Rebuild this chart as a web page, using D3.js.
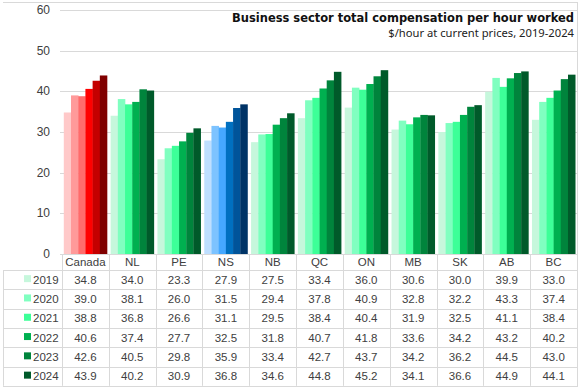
<!DOCTYPE html>
<html>
<head>
<meta charset="utf-8">
<script src="https://cdn.jsdelivr.net/npm/d3@7"></script>
<style>
  body { margin: 0; background: #fff; }
  svg { display: block; font-family: "Liberation Sans", Arial, sans-serif; }
</style>
</head>
<body>
<svg id="chart" width="580" height="388"></svg>
<script>
const regions = ["Canada", "NL", "PE", "NS", "NB", "QC", "ON", "MB", "SK", "AB", "BC"]
const years = ["2019", "2020", "2021", "2022", "2023", "2024"]
const v2019 = [34.8, 34.0, 23.3, 27.9, 27.5, 33.4, 36.0, 30.6, 30.0, 39.9, 33.0]
const v2020 = [39.0, 38.1, 26.0, 31.5, 29.4, 37.8, 40.9, 32.8, 32.2, 43.3, 37.4]
const v2021 = [38.8, 36.8, 26.6, 31.1, 29.5, 38.4, 40.4, 31.9, 32.5, 41.1, 38.4]
const v2022 = [40.6, 37.4, 27.7, 32.5, 31.8, 40.7, 41.8, 33.6, 34.2, 43.2, 40.2]
const v2023 = [42.6, 40.5, 29.8, 35.9, 33.4, 42.7, 43.7, 34.2, 36.2, 44.5, 43.0]
const v2024 = [43.9, 40.2, 30.9, 36.8, 34.6, 44.8, 45.2, 34.1, 36.6, 44.9, 44.1]
const yTicks = [0, 10, 20, 30, 40, 50, 60]

const greens = ["#c6f7dc", "#80ffc0", "#3dff98", "#00b050", "#00843c", "#005a2a"]
const reds = ["#ffc9c9", "#ff9a9a", "#ff6b6b", "#ff0000", "#c40000", "#800000"]
const blues = ["#bfdfff", "#7dc3ff", "#45a8ff", "#0070c0", "#00549a", "#003366"]

const series = [v2019, v2020, v2021, v2022, v2023, v2024]

const svg = d3.select("#chart")
const grey = "#d9d9d9"
const textCol = "#404040"

const x = d3.scaleBand().domain(regions).range([62, 577])
const xi = d3.scaleBand().domain(years).range([0, x.bandwidth()]).paddingOuter(0.25)
const y = d3.scaleLinear().domain([0, 60]).range([254, 10])

// frame
svg.append("line").attr("x1", 3).attr("x2", 577).attr("y1", 2.5).attr("y2", 2.5).attr("stroke", grey)
svg.append("line").attr("x1", 577.5).attr("x2", 577.5).attr("y1", 2).attr("y2", 386).attr("stroke", grey)

// gridlines + y labels
svg.append("g").selectAll("line").data(yTicks).join("line")
    .attr("x1", 60).attr("x2", 577)
    .attr("y1", d => Math.round(y(d)) + 0.5).attr("y2", d => Math.round(y(d)) + 0.5)
    .attr("stroke", grey)
svg.append("g").selectAll("text").data(yTicks).join("text")
    .attr("x", 50).attr("y", d => y(d) + 4)
    .attr("text-anchor", "end")
    .attr("font-size", 12).attr("fill", textCol)
    .text(d => d)

function colorFor(region, i) {
    if (region == "Canada") return reds[i]
    if (region == "NS") return blues[i]
    return greens[i]
}

// bars
const groups = svg.append("g").selectAll("g").data(regions).join("g")
    .attr("transform", d => "translate(" + x(d) + ",0)")
groups.selectAll("rect")
    .data((r, ri) => years.map((yr, i) => ({ region: r, year: yr, i: i, value: series[i][ri] })))
    .join("rect")
    .attr("x", d => xi(d.year))
    .attr("width", xi.bandwidth() + 0.3)
    .attr("y", d => y(d.value))
    .attr("height", d => y(0) - y(d.value))
    .attr("fill", d => colorFor(d.region, d.i))

// data table
const headerTop = 254, headerBottom = 270, rowH = 19.3
const tableBottom = headerBottom + rowH * years.length

// vertical lines
svg.append("g").selectAll("line").data(regions.map(r => x(r)).concat([577]))
    .join("line")
    .attr("x1", d => Math.round(d) + 0.5).attr("x2", d => Math.round(d) + 0.5)
    .attr("y1", headerTop).attr("y2", tableBottom)
    .attr("stroke", grey)
svg.append("line").attr("x1", 3.5).attr("x2", 3.5)
    .attr("y1", headerBottom).attr("y2", tableBottom).attr("stroke", grey)

// horizontal lines
svg.append("g").selectAll("line").data(d3.range(years.length + 1))
    .join("line")
    .attr("x1", 3).attr("x2", 578)
    .attr("y1", i => Math.round(headerBottom + i * rowH) + 0.5)
    .attr("y2", i => Math.round(headerBottom + i * rowH) + 0.5)
    .attr("stroke", grey)

// header labels
svg.append("g").selectAll("text").data(regions).join("text")
    .attr("x", d => x(d) + x.bandwidth() / 2)
    .attr("y", 266)
    .attr("text-anchor", "middle")
    .attr("font-size", 11.5).attr("fill", textCol)
    .text(d => d)

// rows
years.forEach((yr, i) => {
    const cy = headerBottom + i * rowH + rowH / 2 + 4
    svg.append("rect")
        .attr("x", 24).attr("y", cy - 8.5)
        .attr("width", 7).attr("height", 7)
        .attr("fill", greens[i])
    svg.append("text")
        .attr("x", 33).attr("y", cy)
        .attr("font-size", 11.5).attr("fill", textCol)
        .text(yr)
    svg.append("g").selectAll("text").data(series[i]).join("text")
        .attr("x", (d, j) => x(regions[j]) + x.bandwidth() / 2)
        .attr("y", cy)
        .attr("text-anchor", "middle")
        .attr("font-size", 11.5).attr("fill", textCol)
        .text(d => d.toFixed(1))
})

// titles - size the font so the text fills the width it has in the original
function fitText(sel, target, size) {
    const w = sel.node().getComputedTextLength()
    sel.attr("font-size", size * target / w)
}
const title = svg.append("text")
    .attr("x", 574).attr("y", 22)
    .attr("text-anchor", "end")
    .attr("font-family", "'DejaVu Sans Condensed', 'DejaVu Sans', sans-serif")
    .attr("font-weight", "bold")
    .attr("font-size", 14)
    .attr("fill", "#111")
    .text("Business sector total compensation per hour worked")
fitText(title, 342, 14)
const subtitle = svg.append("text")
    .attr("x", 574).attr("y", 37)
    .attr("text-anchor", "end")
    .attr("font-family", "'Noto Sans', sans-serif")
    .attr("font-size", 12)
    .attr("fill", "#222")
    .text("$/hour at current prices, 2019-2024")
fitText(subtitle, 186, 12)
</script>
</body>
</html>
